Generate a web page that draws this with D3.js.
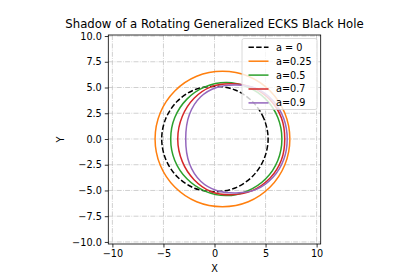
<!DOCTYPE html>
<html>
<head>
<meta charset="utf-8">
<script src="https://cdn.jsdelivr.net/npm/d3@7"></script>
<style>
  body { margin: 0; background: #fff; }
  text { font-family: "DejaVu Sans", sans-serif; fill: #000; }
</style>
</head>
<body>
<div id="chart"></div>
<script>
const width = 420;
const height = 280;
const box = { left: 108.3, right: 320.7, top: 35, bottom: 244 };

// shadow outlines (x, y)
const shadowA0 = [[5.25,0],[4.83,1.99],[3.71,3.64],[2.02,4.76],[0.03,5.12],[-1.96,4.78],[-3.65,3.66],[-4.77,1.99],[-5.17,0],[-4.77,-1.99],[-3.65,-3.66],[-1.96,-4.78],[0.03,-5.12],[2.02,-4.76],[3.71,-3.64],[4.83,-1.99]];
const shadowA025 = [[7.38,0],[6.88,2.53],[5.45,4.67],[3.31,6.1],[0.78,6.58],[-1.75,6.1],[-3.89,4.67],[-5.32,2.53],[-5.82,0],[-5.32,-2.53],[-3.89,-4.67],[-1.75,-6.1],[0.78,-6.58],[3.31,-6.1],[5.45,-4.67],[6.88,-2.53]];
const shadowA05 = [[6.6,0],[6.2,2.09],[5.02,3.87],[3.24,5.05],[1.15,5.48],[-0.94,5.06],[-2.7,3.87],[-3.9,2.06],[-4.29,0],[-3.9,-2.06],[-2.7,-3.87],[-0.94,-5.06],[1.15,-5.5],[3.24,-5.05],[5.02,-3.87],[6.2,-2.09]];
const shadowA07 = [[6.88,0],[6.55,2.05],[5.45,3.8],[3.7,5.0],[1.65,5.36],[-0.35,5.06],[-2.0,3.95],[-3.15,2.2],[-3.6,0],[-3.15,-2.2],[-2.0,-3.95],[-0.35,-5.1],[1.65,-5.42],[3.7,-5.02],[5.45,-3.8],[6.55,-2.05]];
const shadowA09 = [[7.12,0],[6.78,2.0],[5.75,3.7],[4.1,4.9],[2.1,5.24],[0.2,5.0],[-1.35,4.1],[-2.45,2.4],[-2.82,0],[-2.45,-2.4],[-1.35,-4.1],[0.2,-5.0],[2.1,-5.24],[4.1,-4.9],[5.75,-3.7],[6.78,-2.0]];

const seriesNames = ["a = 0", "a=0.25", "a=0.5", "a=0.7", "a=0.9"];
const seriesData = [shadowA0, shadowA025, shadowA05, shadowA07, shadowA09];
const seriesColors = ["#000000", "#ff7f0e", "#2ca02c", "#d62728", "#9467bd"];

const xTicks = [-10, -5, 0, 5, 10];
const yTicks = [-10, -7.5, -5, -2.5, 0, 2.5, 5, 7.5, 10];

const svg = d3.select("#chart").append("svg")
  .attr("width", width)
  .attr("height", height);

const x = d3.scaleLinear().domain([-10.4, 10.4]).range([box.left, box.right]);
const y = d3.scaleLinear().domain([-10.2, 10.1]).range([box.bottom, box.top]);

const fmt = (d) => (d < 0 ? "\u2212" : "") + Math.abs(d);

// grid
const grid = svg.append("g")
  .attr("stroke", "#c4c4c4")
  .attr("stroke-width", 0.8)
  .attr("stroke-dasharray", "5,1.3,0.8,1.3");
grid.selectAll("line.vx").data(xTicks).enter().append("line")
  .attr("x1", (d) => x(d)).attr("x2", (d) => x(d))
  .attr("y1", box.top).attr("y2", box.bottom);
grid.selectAll("line.hy").data(yTicks).enter().append("line")
  .attr("y1", (d) => y(d)).attr("y2", (d) => y(d))
  .attr("x1", box.left).attr("x2", box.right);

// curves
const line = d3.line()
  .x((d) => x(d[0]))
  .y((d) => y(d[1]))
  .curve(d3.curveCatmullRomClosed.alpha(0.5));

svg.append("g").selectAll("path")
  .data(seriesData)
  .enter()
  .append("path")
  .attr("d", (d) => line(d))
  .attr("fill", "none")
  .attr("stroke", (d, i) => seriesColors[i])
  .attr("stroke-width", 1.5)
  .attr("stroke-dasharray", (d, i) => (i === 0 ? "5.4,2.3" : null));

// axes
const xAxis = d3.axisBottom(x).tickValues(xTicks).tickFormat(fmt).tickSize(3.5).tickPadding(3);
svg.append("g")
  .attr("transform", `translate(0, ${box.bottom})`)
  .call(xAxis)
  .call((g) => g.select(".domain").remove())
  .call((g) => g.selectAll("text").style("font-size", "9.7px").style("font-family", "DejaVu Sans"))
  .call((g) => g.selectAll("line").attr("stroke-width", 0.8));

const yAxis = d3.axisLeft(y).tickValues(yTicks).tickFormat((d) => fmt(d.toFixed(1) * 1 === d ? d : d)).tickSize(3.5).tickPadding(3);
yAxis.tickFormat((d) => (d < 0 ? "\u2212" : "") + Math.abs(d).toFixed(1));
svg.append("g")
  .attr("transform", `translate(${box.left}, 0)`)
  .call(yAxis)
  .call((g) => g.select(".domain").remove())
  .call((g) => g.selectAll("text").style("font-size", "9.7px").style("font-family", "DejaVu Sans"))
  .call((g) => g.selectAll("line").attr("stroke-width", 0.8));

svg.append("rect")
  .attr("x", box.left).attr("y", box.top)
  .attr("width", box.right - box.left).attr("height", box.bottom - box.top)
  .attr("fill", "none").attr("stroke", "#000").attr("stroke-width", 0.8);

// labels
svg.append("text")
  .attr("x", (box.left + box.right) / 2).attr("y", 27.5)
  .attr("text-anchor", "middle").style("font-size", "11.7px")
  .text("Shadow of a Rotating Generalized ECKS Black Hole");
svg.append("text")
  .attr("x", (box.left + box.right) / 2).attr("y", 272)
  .attr("text-anchor", "middle").style("font-size", "9.7px")
  .text("X");
svg.append("text")
  .attr("transform", `translate(64, ${(box.top + box.bottom) / 2}) rotate(-90)`)
  .attr("text-anchor", "middle").style("font-size", "9.7px")
  .text("Y");

// legend
const legend = svg.append("g").attr("transform", "translate(242, 38.5)");
legend.append("rect")
  .attr("width", 75).attr("height", 71).attr("rx", 2)
  .attr("fill", "#fff").attr("fill-opacity", 0.8)
  .attr("stroke", "#d0d0d0").attr("stroke-width", 0.8);
const items = legend.selectAll("g.item")
  .data(seriesNames)
  .enter()
  .append("g")
  .attr("transform", (d, i) => `translate(0, ${8.8 + i * 13.9})`);
items.append("line")
  .attr("x1", 6.5).attr("x2", 26.5)
  .attr("stroke", (d, i) => seriesColors[i])
  .attr("stroke-width", 1.5)
  .attr("stroke-dasharray", (d, i) => (i === 0 ? "5.4,2.3" : null));
items.append("text")
  .attr("x", 34).attr("dy", "0.35em")
  .style("font-size", "9.7px")
  .text((d) => d);
</script>
</body>
</html>
